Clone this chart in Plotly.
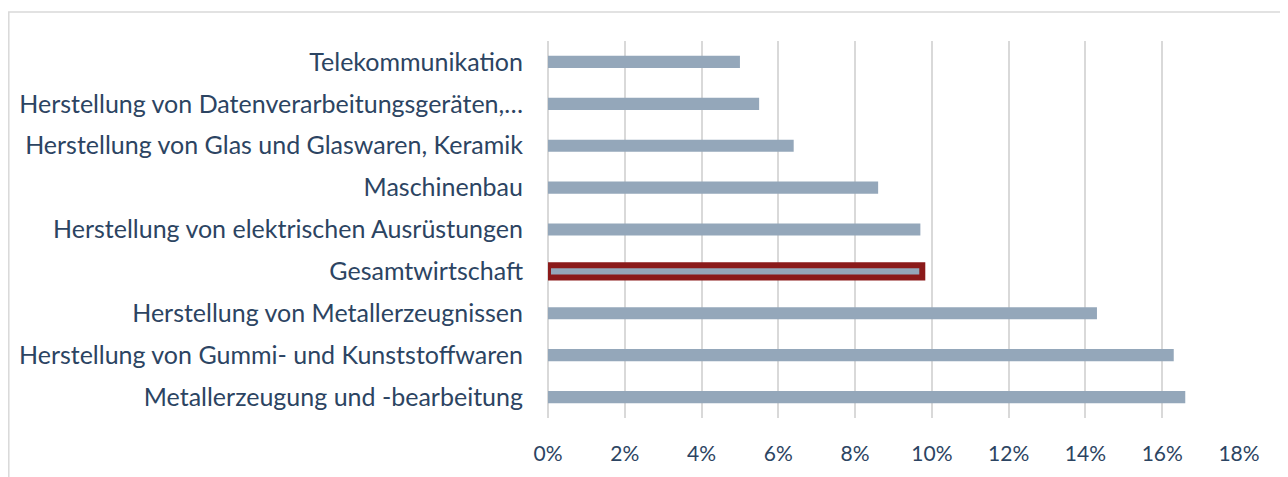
import plotly.graph_objects as go

categories = [
    "Metallerzeugung und -bearbeitung",
    "Herstellung von Gummi- und Kunststoffwaren",
    "Herstellung von Metallerzeugnissen",
    "Gesamtwirtschaft",
    "Herstellung von elektrischen Ausrüstungen",
    "Maschinenbau",
    "Herstellung von Glas und Glaswaren, Keramik",
    "Herstellung von Datenverarbeitungsgeräten,…",
    "Telekommunikation",
]
values = [16.6, 16.3, 14.3, 9.75, 9.7, 8.6, 6.4, 5.5, 5.0]
highlight = "Gesamtwirtschaft"
tick_vals = [0, 2, 4, 6, 8, 10, 12, 14, 16, 18]
tick_text = ["0%", "2%", "4%", "6%", "8%", "10%", "12%", "14%", "16%", "18%"]

bar_color = "#94A7BA"
line_colors = ["#8B1A1A" if c == highlight else bar_color for c in categories]
line_widths = [6 if c == highlight else 0 for c in categories]

fig = go.Figure(
    go.Bar(
        y=categories,
        x=values,
        orientation="h",
        width=0.29,
        marker=dict(color=bar_color, line=dict(color=line_colors, width=line_widths)),
        hoverinfo="x+y",
    )
)

text_color = "#2C4462"
L, R, T, B = 540, 57, 33, 67
pw = 1288 - L - R
ph = 477 - T - B
fig.update_layout(
    width=1288,
    height=477,
    margin=dict(l=L, r=R, t=T, b=B),
    paper_bgcolor="white",
    plot_bgcolor="white",
    showlegend=False,
    font=dict(family="Lato, Open Sans, sans-serif", size=19, color=text_color),
    xaxis=dict(
        range=[0, 18],
        tickvals=tick_vals,
        ticktext=tick_text,
        tickfont=dict(size=21),
        showgrid=True,
        gridcolor="#D9D9D9",
        gridwidth=2,
        zeroline=True,
        zerolinecolor="#D9D9D9",
        zerolinewidth=2,
        showline=False,
        ticks="",
        ticklabelstandoff=21,
        fixedrange=True,
    ),
    yaxis=dict(
        showgrid=False,
        showline=False,
        ticks="",
        tickfont=dict(size=25),
        ticklabelstandoff=24,
        fixedrange=True,
    ),
    shapes=[
        dict(
            type="rect",
            xref="paper",
            yref="paper",
            x0=(0.8 - L) / pw,
            x1=(1300 - L) / pw,
            y0=-0.3,
            y1=(ph + T - 4) / ph,
            line=dict(color="#D9D9D9", width=1.5),
            fillcolor="rgba(0,0,0,0)",
            layer="below",
        )
    ],
)

fig.write_html("out.html")
